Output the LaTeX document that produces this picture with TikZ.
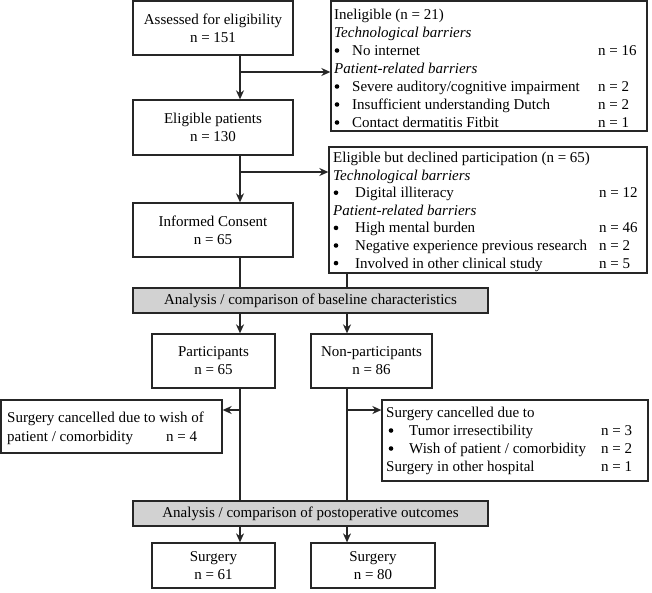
\documentclass[tikz,border=0pt]{standalone}
\usepackage{fontspec}
\setmainfont{Liberation Serif}
\usetikzlibrary{arrows.meta,calc}
\definecolor{linec}{HTML}{262626}
\definecolor{barc}{HTML}{D2D2D2}
\begin{document}
\begin{tikzpicture}[x=1pt,y=-1pt,
  every node/.style={font=\fontsize{15}{18}\selectfont, text=black},
  fbox/.style={draw=linec, line width=1.3pt, inner sep=0pt, align=center},
  gbar/.style={fbox, fill=barc},
  ln/.style={anchor=base west, inner sep=0pt},
  dot/.style={circle, fill=black, inner sep=0pt, minimum size=4.6pt},
  conn/.style={draw=linec, line width=1.3pt},
  arr/.style={conn, -{Stealth[length=9pt,width=8pt]}}]
\useasboundingbox (0,0) rectangle (652,592);

% main column boxes
\node[fbox, minimum width=160pt, minimum height=54pt] (assess) at (213,28) {Assessed for eligibility\\n = 151};
\node[fbox, minimum width=160pt, minimum height=55pt] (elig) at (213,127.5) {Eligible patients\\n = 130};
\node[fbox, minimum width=160pt, minimum height=54pt] (inf) at (213,230) {Informed Consent\\n = 65};

% side boxes
\node[fbox, minimum width=316pt, minimum height=130pt] (inel) at (489,66) {};
\node[fbox, minimum width=318pt, minimum height=126pt] (decl) at (488,210) {};

% ineligible text
\node[ln] (i0) at (334,19.5) {Ineligible (n = 21)};
\node[ln] (i1) at (334,37.5) {\textit{Technological barriers}};
\node[dot] (i2b) at (337,50.5) {};
\node[ln] (i2) at (352,55.5) {No internet};
\node[ln] (i2n) at (598,55.5) {n = 16};
\node[ln] (i3) at (334,73.5) {\textit{Patient-related barriers}};
\node[dot] (i4b) at (337,86.5) {};
\node[ln] (i4) at (352,91.5) {Severe auditory/cognitive impairment};
\node[ln] (i4n) at (598,91.5) {n = 2};
\node[dot] (i5b) at (337,104.5) {};
\node[ln] (i5) at (352,109.5) {Insufficient understanding Dutch};
\node[ln] (i5n) at (598,109.5) {n = 2};
\node[dot] (i6b) at (337,122.5) {};
\node[ln] (i6) at (352,127.5) {Contact dermatitis Fitbit};
\node[ln] (i6n) at (598,127.5) {n = 1};

% declined text
\node[ln] (d0) at (333,162.5) {Eligible but declined participation (n = 65)};
\node[ln] (d1) at (333,180.1) {\textit{Technological barriers}};
\node[dot] (d2b) at (336,192.7) {};
\node[ln] (d2) at (355,197.7) {Digital illiteracy};
\node[ln] (d2n) at (599,197.7) {n = 12};
\node[ln] (d3) at (333,215.3) {\textit{Patient-related barriers}};
\node[dot] (d4b) at (336,227.9) {};
\node[ln] (d4) at (355,232.9) {High mental burden};
\node[ln] (d4n) at (599,232.9) {n = 46};
\node[dot] (d5b) at (336,245.5) {};
\node[ln] (d5) at (355,250.5) {Negative experience previous research};
\node[ln] (d5n) at (599,250.5) {n = 2};
\node[dot] (d6b) at (336,263.1) {};
\node[ln] (d6) at (355,268.1) {Involved in other clinical study};
\node[ln] (d6n) at (599,268.1) {n = 5};

% bars
\node[gbar, minimum width=355pt, minimum height=25pt] (bar1) at (310.5,300.5) {Analysis / comparison of baseline characteristics};
\node[gbar, minimum width=355pt, minimum height=25pt] (bar2) at (310.5,513.5) {Analysis / comparison of postoperative outcomes};

% participants
\node[fbox, minimum width=123pt, minimum height=54pt] (part) at (213.5,361) {Participants\\n = 65};
\node[fbox, minimum width=121pt, minimum height=54pt] (nonp) at (371.5,361) {Non-participants\\n = 86};

% cancel boxes
\node[fbox, minimum width=221pt, minimum height=53pt] (lc) at (111.5,426.5) {};
\node[ln] (l0) at (7,422.5) {Surgery cancelled due to wish of};
\node[ln] (l1) at (7,441) {patient / comorbidity};
\node[ln] (l1n) at (166,441) {n = 4};

\node[fbox, minimum width=266pt, minimum height=81pt] (rc) at (515,440.5) {};
\node[ln] (r0) at (386,417.5) {Surgery cancelled due to};
\node[dot] (r1b) at (391,430.5) {};
\node[ln] (r1) at (409,435.5) {Tumor irresectibility};
\node[ln] (r1n) at (601,435.5) {n = 3};
\node[dot] (r2b) at (391,448.5) {};
\node[ln] (r2) at (409,453.5) {Wish of patient / comorbidity};
\node[ln] (r2n) at (601,453.5) {n = 2};
\node[ln] (r3) at (386,471.5) {Surgery in other hospital};
\node[ln] (r3n) at (601,471.5) {n = 1};

% surgery boxes
\node[fbox, minimum width=123pt, minimum height=45pt] (s1) at (213.5,565.5) {Surgery\\n = 61};
\node[fbox, minimum width=124pt, minimum height=45pt] (s2) at (373,565.5) {Surgery\\n = 80};

% trunk coordinates
\coordinate (t1) at (240,0);
\coordinate (t2) at (347,0);
\coordinate (b1) at (240,72);
\coordinate (b2) at (240,172);
\coordinate (b3) at (240,410);
\coordinate (b4) at (347,410);

% connectors
\draw[arr] (assess.south -| t1) -- (elig.north -| t1);
\draw[arr] (b1) -- (b1 -| inel.west);
\draw[arr] (elig.south -| t1) -- (inf.north -| t1);
\draw[arr] (b2) -- (b2 -| decl.west);
\draw[conn] (inf.south -| t1) -- (bar1.north -| t1);
\draw[conn] (decl.south -| t2) -- (bar1.north -| t2);
\draw[arr] (bar1.south -| t1) -- (part.north -| t1);
\draw[arr] (bar1.south -| t2) -- (nonp.north -| t2);
\draw[conn] (part.south -| t1) -- (bar2.north -| t1);
\draw[arr] (b3) -- (b3 -| lc.east);
\draw[conn] (nonp.south -| t2) -- (bar2.north -| t2);
\draw[arr] (b4) -- (b4 -| rc.west);
\draw[arr] (bar2.south -| t1) -- (s1.north -| t1);
\draw[arr] (bar2.south -| t2) -- (s2.north -| t2);
\end{tikzpicture}
\end{document}
